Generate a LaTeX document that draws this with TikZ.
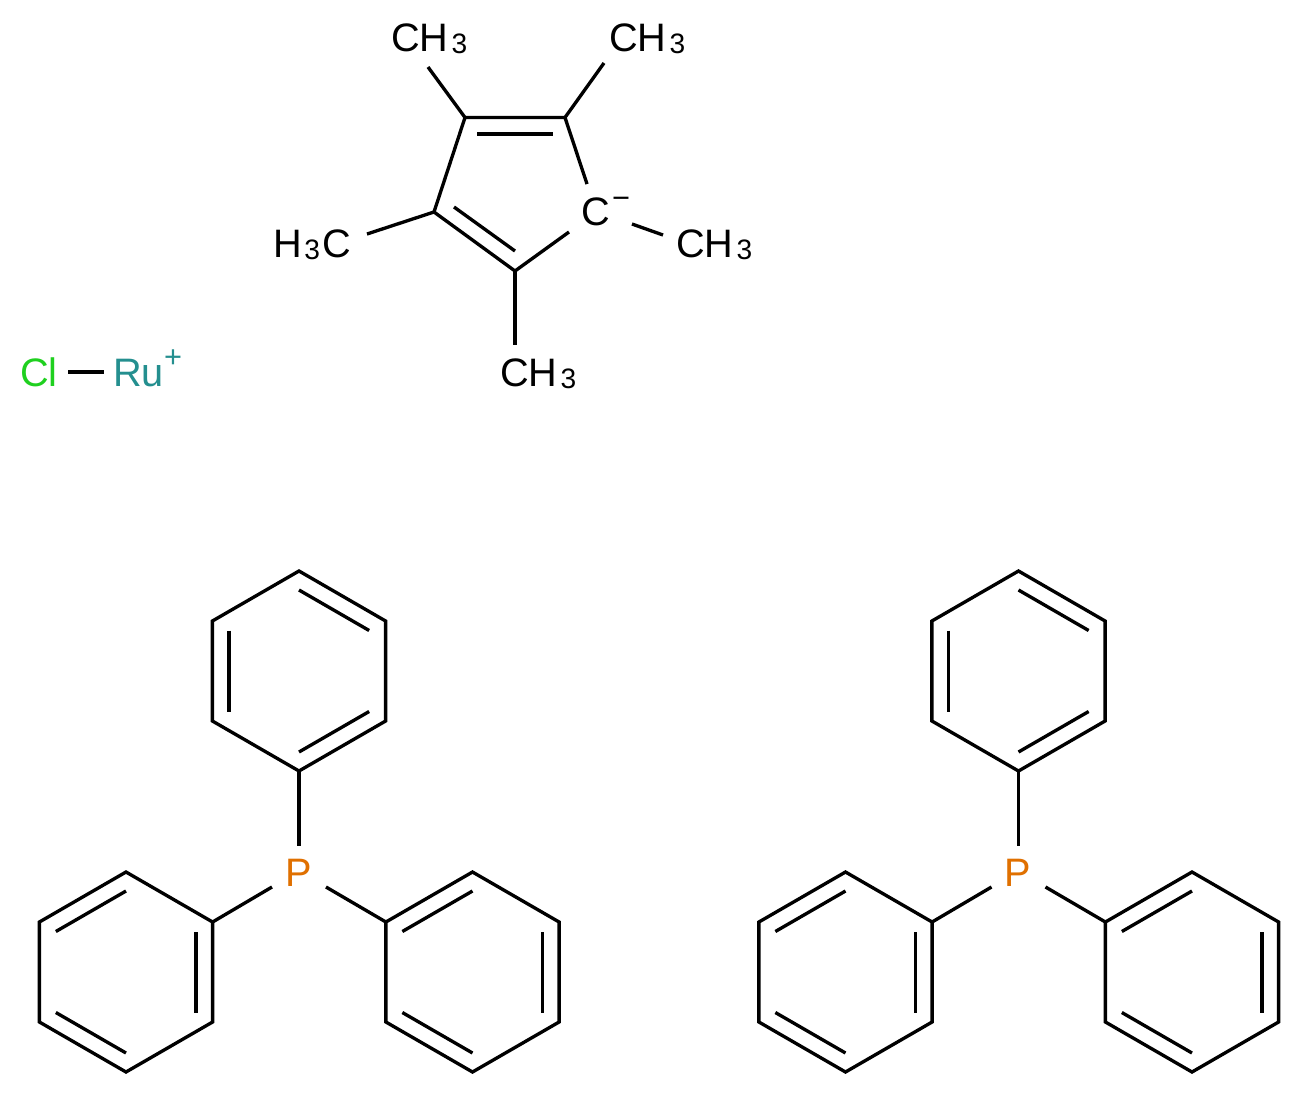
\documentclass[tikz,border=0pt]{standalone}
\usepackage{fontspec}
\setmainfont{Liberation Sans}
\usetikzlibrary{calc}
\definecolor{clgreen}{HTML}{1FD01F}
\definecolor{ruteal}{HTML}{248F8F}
\definecolor{porange}{HTML}{E07000}
\newcommand{\labfont}{\fontsize{22.6}{27}\selectfont}
\newcommand{\subfont}{\fontsize{16}{19}\selectfont}
\newcommand{\chgfont}{\fontsize{17.5}{20}\selectfont}
\newcommand{\three}{{\subfont\raisebox{-1.2pt}{3}}}
\tikzset{
  bond/.style={draw=black,line width=1.9pt,line join=miter,line cap=butt},
  lbl/.style={inner sep=0pt,outer sep=0pt,anchor=base west,font=\labfont,text=black},
  chg/.style={inner sep=0pt,outer sep=0pt,anchor=base west,font=\chgfont,text=black},
}
% benzene ring: name, cx, cy, then the three start angles of the double bonds
\newcommand{\benz}[6]{%
  \coordinate (#1-c) at (#2,#3);
  \foreach \ang in {30,90,150,210,270,330}{
    \coordinate (#1-\ang) at ($(#1-c)+({-\ang}:100)$);
  }
  \draw[bond] (#1-30)--(#1-90)--(#1-150)--(#1-210)--(#1-270)--(#1-330)--cycle;
  \foreach \ang in {#4,#5,#6}{
    \pgfmathtruncatemacro{\nxt}{\ang==330?30:\ang+60}
    \draw[bond] ($(#1-c)!0.81!(#1-\ang)$)--($(#1-c)!0.81!(#1-\nxt)$);
  }
}
% triphenylphosphine: prefix, x offset
\newcommand{\phosphine}[2]{%
  \node[lbl,text=porange] (#1P) at ({285+#2},886) {P};
  \benz{#1top}{299+#2}{671}{30}{150}{270}
  \benz{#1lft}{126+#2}{972}{90}{210}{330}
  \benz{#1rgt}{472.5+#2}{972}{90}{210}{330}
  \coordinate (#1Pu) at ({299+#2},846);
  \coordinate (#1Pl) at ({272+#2},887);
  \coordinate (#1Pr) at ({326+#2},887);
  \draw[bond] (#1top-270)--(#1Pu);
  \draw[bond] (#1lft-30)--(#1Pl);
  \draw[bond] (#1rgt-150)--(#1Pr);
}
\begin{document}
\begin{tikzpicture}[x=0.02cm,y=-0.02cm]
\useasboundingbox (0,0) rectangle (1302,1096);
\fill[white] (0,0) rectangle (1302,1096);
% Cp ring
\coordinate (a) at (465,117.5);
\coordinate (b) at (565,117.5);
\coordinate (d) at (515,271);
\coordinate (e) at (434,212);
\coordinate (bc) at (587,184);
\coordinate (dc) at (569,232);
\coordinate (ab1) at (477,134);
\coordinate (ab2) at (553,134);
\coordinate (ed1) at (454,207);
\coordinate (ed2) at (515,251);
\node[lbl] (C) at (581,225) {C};
\node[chg] (Cm) at (612,208) {−};
\node[lbl] (m1) at (391,51) {CH\kern1.9pt\three};
\node[lbl] (m2) at (609,51) {CH\kern1.9pt\three};
\node[lbl] (m3) at (676,257) {CH\kern1.9pt\three};
\node[lbl] (m4) at (273,257) {H\kern1.6pt\three\kern1.2pt C};
\node[lbl] (m5) at (500,386) {CH\kern1.9pt\three};
\coordinate (m1e) at (428,67);
\coordinate (m2e) at (604,63);
\coordinate (m3s) at (632,224);
\coordinate (m3e) at (663,235);
\coordinate (m4e) at (367,234);
\coordinate (m5e) at (515,345);
\draw[bond] (bc)--(b)--(a)--(e)--(d)--(dc);
\draw[bond] (ab1)--(ab2);
\draw[bond] (ed1)--(ed2);
\draw[bond] (a)--(m1e);
\draw[bond] (b)--(m2e);
\draw[bond] (m3s)--(m3e);
\draw[bond] (e)--(m4e);
\draw[bond] (d)--(m5e);
% Cl-Ru
\node[lbl,text=clgreen] (Cl) at (20,386) {Cl};
\node[lbl,text=ruteal] (Ru) at (113,386) {Ru};
\node[chg,text=ruteal] (Rup) at (164,367) {+};
\coordinate (cle) at (68,372);
\coordinate (rue) at (104,372);
\draw[bond] (cle)--(rue);
% phosphines
\phosphine{A}{0}
\phosphine{B}{719.5}
\end{tikzpicture}
\end{document}
